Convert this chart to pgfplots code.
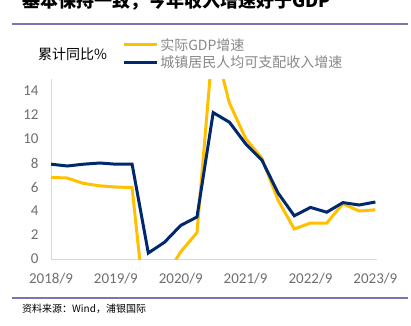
\documentclass[border=0pt]{standalone}
\usepackage{pgfplots}
\pgfplotsset{compat=1.18}
\usepackage{fontspec}
\setmainfont{Carlito}
\newfontfamily\cjk{Noto Sans CJK SC}
\definecolor{gdpyel}{RGB}{255,192,0}
\definecolor{incblue}{RGB}{0,40,110}
\definecolor{ticgray}{RGB}{110,110,110}
\definecolor{leggray}{RGB}{135,135,135}
\definecolor{rulepur}{RGB}{125,115,175}
\definecolor{axgray}{RGB}{217,217,217}
\begin{document}
\begin{tikzpicture}[x=1pt,y=1pt]
\useasboundingbox (0,0) rectangle (411,325);
\node[anchor=base west,inner sep=0,font=\cjk\bfseries\fontsize{18}{18}\selectfont] at (22,317) {基本保持一致，今年收入增速好于GDP};
\draw[rulepur,line width=1.2pt] (12,301) -- (408,301);
\draw[rulepur,line width=1.2pt] (12,27) -- (408,27);
\node[anchor=west,inner sep=0,font=\cjk\fontsize{10}{10}\selectfont] at (22,16) {资料来源：Wind，浦银国际};
\node[anchor=west,inner sep=0,font=\cjk\fontsize{14}{14}\selectfont] at (38,271) {累计同比\%};
\begin{axis}[
  at={(51pt,66pt)}, anchor=south west,
  scale only axis, width=326pt, height=180pt,
  xmin=0, xmax=20.1, ymin=0, ymax=15,
  axis x line*=bottom, axis y line*=left,
  axis line style={axgray, line width=0.8pt},
  x axis line style={-}, y axis line style={-},
  major tick length=0pt,
  xtick={0,4,8,12,16,20},
  xticklabels={2018/9,2019/9,2020/9,2021/9,2022/9,2023/9},
  ytick={0,2,4,6,8,10,12,14},
  tick label style={font=\fontsize{15}{15}\selectfont, text=ticgray},
  /pgf/number format/assume math mode=true,
  yticklabel style={xshift=-9pt},
  xticklabel style={yshift=-11pt},
  clip=true,
  legend style={at={(0.218,1.239)}, anchor=north west, draw=none, fill=none,
    font=\cjk\fontsize{14}{14}\selectfont, text=leggray,
    row sep=0pt, inner sep=0pt, cells={anchor=west}},
  legend image code/.code={\draw[#1, line width=3pt] (0pt,0pt) -- (33pt,0pt);},
]
\addplot[gdpyel, line width=3pt] coordinates {
(0,6.8) (1,6.75) (2,6.3) (3,6.1) (4,6.0) (5,5.95) (6,-6.8) (7,-1.6) (8,0.6) (9,2.2)
(10,18.3) (11,13.0) (12,10.05) (13,8.4) (14,4.9) (15,2.5) (16,3.0) (17,3.0) (18,4.6) (19,4.0) (20,4.1)};
\addlegendentry{实际GDP增速}
\addplot[incblue, line width=3pt] coordinates {
(0,7.9) (1,7.75) (2,7.9) (3,8.0) (4,7.9) (5,7.9) (6,0.5) (7,1.4) (8,2.8) (9,3.5)
(10,12.2) (11,11.4) (12,9.6) (13,8.25) (14,5.5) (15,3.6) (16,4.3) (17,3.9) (18,4.7) (19,4.5) (20,4.75)};
\addlegendentry{城镇居民人均可支配收入增速}
\end{axis}
\end{tikzpicture}
\end{document}
